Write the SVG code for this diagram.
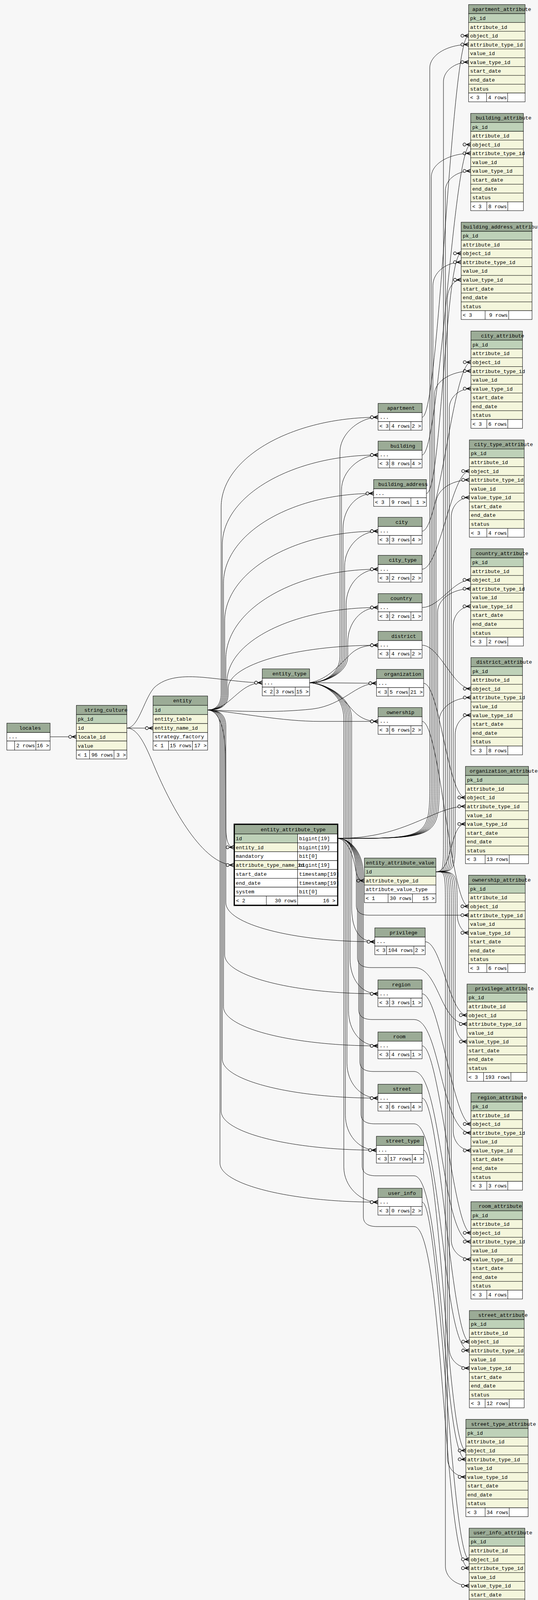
<svg xmlns="http://www.w3.org/2000/svg" width="1377" height="4217" viewBox="0 0 1377 4217">
<style>
text{font-family:"Liberation Mono","DejaVu Sans Mono",monospace;font-size:13.2px;fill:#000}
.e{text-anchor:end}
.hd{fill:#9bab96;stroke:#000;stroke-width:1}
.pk{fill:#bed1b8;stroke:#000;stroke-width:1}
.ix{fill:#f4f6dc;stroke:#000;stroke-width:1}
.wt{fill:#fff;stroke:#000;stroke-width:1}
.ln{fill:none;stroke:#000;stroke-width:1}
#edges path{fill:none;stroke:#000;stroke-width:1;marker-end:url(#cf)}
</style>
<defs>
<marker id="cf" markerUnits="userSpaceOnUse" markerWidth="24" markerHeight="14" refX="20" refY="7" orient="auto" overflow="visible">
<circle cx="4.2" cy="7" r="3.8" fill="#f7f7f7" stroke="#000" stroke-width="1.3"/>
<path d="M9 7L20 2.6M9 7L20 7M9 7L20 11.4" fill="none" stroke="#000" stroke-width="1.6"/>
</marker>
</defs>
<rect width="1377" height="4217" fill="#f7f7f7"/>
<g id="edges">
<path d="M128.2,1886.2 L195.4,1886.2"/>
<path d="M324.6,1863.8 L391.8,1864.1"/>
<path d="M324.6,1863.8 C355,1863.8 368,1790 395,1760 C425,1732 470,1730 520,1734 C585,1740 625,1747.7 671.3,1747.7"/>
<path d="M324.6,1863.8 C355,1863.8 375,1915 395,1962 C440,2070 520,2214.5 598.3,2214.5"/>
<path d="M531.4,1817.5 C590,1817.5 610,1747.7 671.3,1747.7"/>
<path d="M531.4,1817.5 C560,1820 575,1860 577,1930 L578,2120 C579,2155 585,2169 598.3,2169"/>
<path d="M531.4,1817.5 C551,1817.5 566,1805 566,1775 L566,1298.2 C566,1171.7 746.8,1068.2 967.7,1068.2"/>
<path d="M531.4,1817.5 C554,1817.5 569,1805 569,1775 L569,1394.8 C569,1268.3 748.4,1164.8 967.7,1164.8"/>
<path d="M531.4,1817.5 C557,1817.5 572,1805 572,1775 L572,1493.2 C572,1366.7 744.9,1263.2 956.3,1263.2"/>
<path d="M531.4,1817.5 C560,1817.5 575,1805 575,1775 L575,1589.8 C575,1463.3 751.7,1359.8 967.7,1359.8"/>
<path d="M531.4,1817.5 C563,1817.5 578,1805 578,1775 L578,1687.2 C578,1560.7 753.4,1457.2 967.7,1457.2"/>
<path d="M531.4,1817.5 C566,1817.5 581,1805 581,1775 L581,1745.2 C581,1640.7 755,1555.2 967.7,1555.2"/>
<path d="M531.4,1817.5 C569,1817.5 584,1805 584,1775 L584,1761.8 C584,1701.3 756.7,1651.8 967.7,1651.8"/>
<path d="M531.4,1817.5 C600,1820 700,1826 800,1815 C880,1805 910,1749.2 963.7,1749.2"/>
<path d="M531.4,1817.5 C620,1825 720,1846.8 820,1846.8 L967.7,1846.8"/>
<path d="M531.4,1817.5 C563,1817.5 578,1830 578,1860 L578,2310.9 C578,2365.9 749.6,2410.9 959.3,2410.9"/>
<path d="M531.4,1817.5 C560,1817.5 575,1830 575,1860 L575,2444.1 C575,2499.1 751.5,2544.1 967.3,2544.1"/>
<path d="M531.4,1817.5 C557,1817.5 572,1830 572,1860 L572,2577.4 C572,2632.4 749.9,2677.4 967.3,2677.4"/>
<path d="M531.4,1817.5 C554,1817.5 569,1830 569,1860 L569,2711.2 C569,2766.2 748.2,2811.2 967.3,2811.2"/>
<path d="M531.4,1817.5 C551,1817.5 566,1830 566,1860 L566,2844.4 C566,2899.4 744.8,2944.4 963.3,2944.4"/>
<path d="M531.4,1817.5 C548,1817.5 563,1830 563,1860 L563,2977.5 C563,3032.5 744.9,3077.5 967.3,3077.5"/>
<path d="M792.3,1747.7 C830,1747.7 870,1725 870,1680 L870,1158.2 C870,1108.2 922.7,1068.2 967.7,1068.2"/>
<path d="M792.3,1747.7 C830,1747.7 874,1725 874,1680 L874,1254.8 C874,1204.8 922.7,1164.8 967.7,1164.8"/>
<path d="M792.3,1747.7 C830,1747.7 878,1725 878,1680 L878,1353.2 C878,1303.2 911.3,1263.2 956.3,1263.2"/>
<path d="M792.3,1747.7 C830,1747.7 882,1725 882,1680 L882,1449.8 C882,1399.8 922.7,1359.8 967.7,1359.8"/>
<path d="M792.3,1747.7 C830,1747.7 886,1725 886,1680 L886,1547.2 C886,1497.2 922.7,1457.2 967.7,1457.2"/>
<path d="M792.3,1747.7 C830,1747.7 890,1725 890,1680 L890,1645.2 C890,1595.2 922.7,1555.2 967.7,1555.2"/>
<path d="M792.3,1747.7 C840,1740 870,1700 900,1672 C920,1655 940,1651.8 967.7,1651.8"/>
<path d="M792.3,1747.7 L963.7,1749.2"/>
<path d="M792.3,1747.7 C840,1750 870,1780 900,1815 C920,1838 940,1846.8 967.7,1846.8"/>
<path d="M792.3,1747.7 C830,1750 900,1780 900,1840 L900,2320.9 C900,2370.9 914.3,2410.9 959.3,2410.9"/>
<path d="M792.3,1747.7 C830,1750 896,1780 896,1840 L896,2454.1 C896,2504.1 922.3,2544.1 967.3,2544.1"/>
<path d="M792.3,1747.7 C830,1750 892,1780 892,1840 L892,2587.4 C892,2637.4 922.3,2677.4 967.3,2677.4"/>
<path d="M792.3,1747.7 C830,1750 888,1780 888,1840 L888,2721.2 C888,2771.2 922.3,2811.2 967.3,2811.2"/>
<path d="M792.3,1747.7 C830,1750 884,1780 884,1840 L884,2854.4 C884,2904.4 918.3,2944.4 963.3,2944.4"/>
<path d="M792.3,1747.7 C830,1750 880,1780 880,1840 L880,2987.5 C880,3037.5 922.3,3077.5 967.3,3077.5"/>
<path d="M865,2146.3 C892,2150 905,2195 910,2225 C914,2248 920,2254.5 932.7,2254.5"/>
<path d="M865,2146.3 C1100,2146.3 1100,2146.3 1100,2000 L1100,174 C1100,141 1144.7,114 1199.3,114"/>
<path d="M865,2146.3 C1104,2146.3 1104,2146.3 1104,2000 L1104,452.6 C1104,419.6 1149.3,392.6 1204.7,392.6"/>
<path d="M865,2146.3 C1108,2146.3 1108,2146.3 1108,2000 L1108,731.2 C1108,698.2 1140.5,671.2 1180.3,671.2"/>
<path d="M865,2146.3 C1112,2146.3 1112,2146.3 1112,2000 L1112,1009.8 C1112,976.8 1154,949.8 1205.3,949.8"/>
<path d="M865,2146.3 C1116,2146.3 1116,2146.3 1116,2000 L1116,1288.5 C1116,1255.5 1154.4,1228.5 1201.3,1228.5"/>
<path d="M865,2146.3 C1120,2146.3 1120,2146.3 1120,2000 L1120,1567.1 C1120,1534.1 1158.1,1507.1 1204.7,1507.1"/>
<path d="M865,2146.3 C1124,2146.3 1124,2146.3 1124,2000 L1124,1845.7 C1124,1812.7 1160.6,1785.7 1205.3,1785.7"/>
<path d="M865,2146.3 C1040,2146.3 1110,2064.3 1191.3,2064.3"/>
<path d="M865,2146.3 C895,2146.3 912,2180 912,2240 L912,2318 C912,2334 922,2342.9 945,2342.9 L1199.3,2342.9"/>
<path d="M865,2146.3 C895,2146.3 915,2180 915,2240 L915,2452 C915,2467 925,2477 950,2477 L1060,2477 C1125,2477 1125,2621.5 1195.3,2621.5"/>
<path d="M865,2146.3 C895,2146.3 918,2180 918,2240 L918,2585 C918,2600 928,2610 953,2610 L1060,2610 C1128,2610 1128,2900.1 1205.3,2900.1"/>
<path d="M865,2146.3 C895,2146.3 921,2180 921,2240 L921,2718 C921,2733 931,2743 956,2743 L1060,2743 C1130,2743 1130,3178.7 1205.3,3178.7"/>
<path d="M865,2146.3 C895,2146.3 924,2180 924,2240 L924,2852 C924,2867 934,2877 959,2877 L1060,2877 C1132,2877 1132,3457.3 1201.3,3457.3"/>
<path d="M865,2146.3 C895,2146.3 927,2180 927,2240 L927,2985 C927,3000 937,3010 962,3010 L1060,3010 C1134,3010 1134,3735.9 1192.3,3735.9"/>
<path d="M865,2146.3 C895,2146.3 930,2180 930,2240 L930,3115 C930,3130 940,3140 965,3140 L1060,3140 C1136,3140 1136,4014.5 1200.7,4014.5"/>
<path d="M1115.7,2231.6 C1135,2231.6 1135,2231.6 1135,2130 L1135,209.1 C1135,181.6 1163.9,159.1 1199.3,159.1"/>
<path d="M1115.7,2231.6 C1140,2231.6 1140,2231.6 1140,2130 L1140,487.7 C1140,460.2 1169.1,437.7 1204.7,437.7"/>
<path d="M1115.7,2231.6 C1145,2231.6 1145,2231.6 1145,2130 L1145,766.3 C1145,738.8 1160.9,716.3 1180.3,716.3"/>
<path d="M1115.7,2231.6 C1150,2231.6 1150,2231.6 1150,2130 L1150,1044.9 C1150,1017.4 1174.9,994.9 1205.3,994.9"/>
<path d="M1115.7,2231.6 C1155,2231.6 1155,2231.6 1155,2130 L1155,1323.6 C1155,1296.1 1175.8,1273.6 1201.3,1273.6"/>
<path d="M1115.7,2231.6 C1160,2231.6 1160,2231.6 1160,2130 L1160,1602.2 C1160,1574.7 1180.1,1552.2 1204.7,1552.2"/>
<path d="M1115.7,2231.6 C1165,2231.6 1165,2231.6 1165,2130 L1165,1880.8 C1165,1853.3 1183.1,1830.8 1205.3,1830.8"/>
<path d="M1115.7,2231.6 C1160,2231.6 1150,2109.4 1191.3,2109.4"/>
<path d="M1115.7,2231.6 C1170,2231.6 1170,2231.6 1170,2330 L1170,2338 C1170,2365.5 1183.2,2388 1199.3,2388"/>
<path d="M1115.7,2231.6 C1165,2231.6 1165,2231.6 1165,2330 L1165,2616.6 C1165,2644.1 1178.6,2666.6 1195.3,2666.6"/>
<path d="M1115.7,2231.6 C1160,2231.6 1160,2231.6 1160,2330 L1160,2895.2 C1160,2922.7 1180.4,2945.2 1205.3,2945.2"/>
<path d="M1115.7,2231.6 C1155,2231.6 1155,2231.6 1155,2330 L1155,3173.8 C1155,3201.3 1177.7,3223.8 1205.3,3223.8"/>
<path d="M1115.7,2231.6 C1150,2231.6 1150,2231.6 1150,2330 L1150,3452.4 C1150,3479.9 1173.1,3502.4 1201.3,3502.4"/>
<path d="M1115.7,2231.6 C1145,2231.6 1145,2231.6 1145,2330 L1145,3731 C1145,3758.5 1166.3,3781 1192.3,3781"/>
<path d="M1115.7,2231.6 C1140,2231.6 1140,2231.6 1140,2330 L1140,4009.6 C1140,4037.1 1167.3,4059.6 1200.7,4059.6"/>
<path d="M1080.3,1068.2 C1125,1068.2 1154.3,91.4 1199.3,91.4"/>
<path d="M1080.3,1164.8 C1125,1164.8 1159.7,370 1204.7,370"/>
<path d="M1091.3,1263.2 C1130,1263.2 1140,648.6 1180.3,648.6"/>
<path d="M1080.3,1359.8 C1125,1359.8 1160.3,927.2 1205.3,927.2"/>
<path d="M1080.3,1457.2 C1125,1457.2 1156.3,1205.9 1201.3,1205.9"/>
<path d="M1080.3,1555.2 C1125,1555.2 1159.7,1484.5 1204.7,1484.5"/>
<path d="M1080.3,1651.8 C1125,1651.8 1160.3,1763.1 1205.3,1763.1"/>
<path d="M1084.3,1749.2 C1125,1749.2 1146.3,2041.7 1191.3,2041.7"/>
<path d="M1080.3,1846.8 C1125,1846.8 1154.3,2320.3 1199.3,2320.3"/>
<path d="M1088.3,2410.9 C1130,2410.9 1150.3,2598.9 1195.3,2598.9"/>
<path d="M1080.3,2544.1 C1125,2544.1 1160.3,2877.5 1205.3,2877.5"/>
<path d="M1080.3,2677.4 C1125,2677.4 1160.3,3156.1 1205.3,3156.1"/>
<path d="M1080.3,2811.2 C1125,2811.2 1156.3,3434.7 1201.3,3434.7"/>
<path d="M1084.3,2944.4 C1125,2944.4 1147.3,3713.3 1192.3,3713.3"/>
<path d="M1080.3,3077.5 C1125,3077.5 1155.7,3991.9 1200.7,3991.9"/>
</g>

<g id="locales" transform="translate(17.5 1851.3)">
<rect class="hd" width="110.7" height="24"/>
<rect class="wt" y="24" width="110.7" height="21.7"/>
<rect class="wt" y="45.7" width="110.7" height="23.3"/>
<path class="ln" d="M20 45.7V69M74.3 45.7V69"/>
<text x="31.8" y="17">locales</text>
<text x="4" y="39">...</text>
<text class="e" x="71.8" y="62">2 rows</text>
<text class="e" x="108.2" y="62">16 &gt;</text>
</g>

<g id="string_culture" transform="translate(195.4 1805.7)">
<rect class="hd" width="129.2" height="23.6"/>
<rect class="pk" y="23.6" width="129.2" height="23"/>
<rect class="ix" y="46.6" width="129.2" height="23"/>
<rect class="ix" y="69.6" width="129.2" height="21.7"/>
<rect class="ix" y="91.3" width="129.2" height="23.3"/>
<rect class="wt" y="114.6" width="129.2" height="22.7"/>
<path class="ln" d="M33.9 114.6V137.3M96.4 114.6V137.3"/>
<text x="20.3" y="16.5">string_culture</text>
<text x="3.6" y="39.6">pk_id</text>
<text x="3.6" y="62.6">id</text>
<text x="3.6" y="85.5">locale_id</text>
<text x="3.6" y="107.9">value</text>
<text x="3.5" y="130.9">&lt; 1</text>
<text class="e" x="93.9" y="130.9">96 rows</text>
<text class="e" x="126.7" y="130.9">3 &gt;</text>
</g>

<g id="entity" transform="translate(391.8 1781.7)">
<rect class="hd" width="139.6" height="24"/>
<rect class="pk" y="24" width="139.6" height="23.6"/>
<rect class="ix" y="47.6" width="139.6" height="23"/>
<rect class="ix" y="70.6" width="139.6" height="23"/>
<rect class="wt" y="93.6" width="139.6" height="21.7"/>
<rect class="wt" y="115.3" width="139.6" height="23.3"/>
<path class="ln" d="M39.6 115.3V138.6M100.7 115.3V138.6"/>
<text x="51.4" y="16.8">entity</text>
<text x="3.9" y="40">id</text>
<text x="3.9" y="63">entity_table</text>
<text x="3.9" y="86">entity_name_id</text>
<text x="3.9" y="108.5">strategy_factory</text>
<text x="3" y="131">&lt; 1</text>
<text class="e" x="98.2" y="131">15 rows</text>
<text class="e" x="137" y="131">17 &gt;</text>
</g>

<g id="entity_type" transform="translate(671.3 1712.3)">
<rect class="hd" width="121" height="24"/>
<rect class="wt" y="24" width="121" height="22.7"/>
<rect class="wt" y="46.7" width="121" height="22.3"/>
<path class="ln" d="M30.4 46.7V69M84.4 46.7V69"/>
<text x="26" y="16.8">entity_type</text>
<text x="4" y="39.5">...</text>
<text x="3.4" y="62.5">&lt; 2</text>
<text class="e" x="81.9" y="62.5">3 rows</text>
<text class="e" x="118.5" y="62.5">15 &gt;</text>
</g>

<g id="entity_attribute_type">
<rect class="hd" x="600.7" y="2111" width="263" height="24"/>
<rect class="pk" x="600.7" y="2135" width="161" height="22.7"/>
<rect class="wt" x="761.7" y="2135" width="102" height="22.7"/>
<rect class="ix" x="600.7" y="2157.7" width="161" height="22.7"/>
<rect class="wt" x="761.7" y="2157.7" width="102" height="22.7"/>
<rect class="wt" x="600.7" y="2180.4" width="161" height="22.7"/>
<rect class="wt" x="761.7" y="2180.4" width="102" height="22.7"/>
<rect class="ix" x="600.7" y="2203.1" width="161" height="22.7"/>
<rect class="wt" x="761.7" y="2203.1" width="102" height="22.7"/>
<rect class="wt" x="600.7" y="2225.8" width="161" height="22.7"/>
<rect class="wt" x="761.7" y="2225.8" width="102" height="22.7"/>
<rect class="wt" x="600.7" y="2248.5" width="161" height="22.7"/>
<rect class="wt" x="761.7" y="2248.5" width="102" height="22.7"/>
<rect class="wt" x="600.7" y="2271.2" width="161" height="22.7"/>
<rect class="wt" x="761.7" y="2271.2" width="102" height="22.7"/>
<rect class="wt" x="600.7" y="2293.9" width="263" height="22.7"/>
<path class="ln" d="M681.7 2293.9V2316.6M761.7 2293.9V2316.6"/>
<text x="667.3" y="2128">entity_attribute_type</text>
<text x="603.5" y="2151">id</text>
<text x="765.5" y="2151">bigint[19]</text>
<text x="603.5" y="2173.7">entity_id</text>
<text x="765.5" y="2173.7">bigint[19]</text>
<text x="603.5" y="2196.4">mandatory</text>
<text x="765.5" y="2196.4">bit[0]</text>
<text x="603.5" y="2219.1">attribute_type_name_id</text>
<text x="765.5" y="2219.1">bigint[19]</text>
<text x="603.5" y="2241.8">start_date</text>
<text x="765.5" y="2241.8">timestamp[19]</text>
<text x="603.5" y="2264.5">end_date</text>
<text x="765.5" y="2264.5">timestamp[19]</text>
<text x="603.5" y="2287.2">system</text>
<text x="765.5" y="2287.2">bit[0]</text>
<text x="604" y="2309.9">&lt; 2</text>
<text class="e" x="759" y="2309.9">30 rows</text>
<text class="e" x="858.5" y="2309.9">16 &gt;</text>
<rect x="599.5" y="2110" width="264.8" height="207.8" fill="none" stroke="#000" stroke-width="3"/>
</g>

<g id="entity_attribute_value" transform="translate(932.7 2196.7)">
<rect class="hd" width="183" height="23.3"/>
<rect class="pk" y="23.3" width="183" height="23.3"/>
<rect class="ix" y="46.6" width="183" height="22.4"/>
<rect class="wt" y="69" width="183" height="22.6"/>
<rect class="wt" y="91.6" width="183" height="22.4"/>
<path class="ln" d="M60.6 91.6V114M123 91.6V114"/>
<text x="4.3" y="16">entity_attribute_value</text>
<text x="3.5" y="39.6">id</text>
<text x="3.5" y="62.3">attribute_type_id</text>
<text x="3.5" y="84.8">attribute_value_type</text>
<text x="3.3" y="107.3">&lt; 1</text>
<text class="e" x="120.5" y="107.3">30 rows</text>
<text class="e" x="180" y="107.3">15 &gt;</text>
</g>

<g id="apartment" transform="translate(967.7 1032.7)">
<rect class="hd" width="112.6" height="23.6"/><rect class="wt" y="23.6" width="112.6" height="23"/><rect class="wt" y="46.6" width="112.6" height="22"/>
<path class="ln" d="M29.6 46.6V68.6M84 46.6V68.6"/>
<text x="23" y="16.5">apartment</text><text x="4" y="39">...</text>
<text x="3.5" y="62">&lt; 3</text><text class="e" x="81.5" y="62">4 rows</text><text class="e" x="110.1" y="62">2 &gt;</text>
</g>
<g id="building" transform="translate(967.7 1129.3)">
<rect class="hd" width="112.6" height="23.6"/><rect class="wt" y="23.6" width="112.6" height="23"/><rect class="wt" y="46.6" width="112.6" height="22"/>
<path class="ln" d="M29.6 46.6V68.6M84 46.6V68.6"/>
<text x="31.6" y="16.5">building</text><text x="4" y="39">...</text>
<text x="3.5" y="62">&lt; 3</text><text class="e" x="81.5" y="62">8 rows</text><text class="e" x="110.1" y="62">4 &gt;</text>
</g>
<g id="building_address" transform="translate(956.3 1227.7)">
<rect class="hd" width="135" height="23.6"/><rect class="wt" y="23.6" width="135" height="23"/><rect class="wt" y="46.6" width="135" height="22"/>
<path class="ln" d="M41 46.6V68.6M95.4 46.6V68.6"/>
<text x="12" y="16.5">building_address</text><text x="4" y="39">...</text>
<text x="3.5" y="62">&lt; 3</text><text class="e" x="92.9" y="62">9 rows</text><text class="e" x="132.5" y="62">1 &gt;</text>
</g>
<g id="city" transform="translate(967.7 1324.3)">
<rect class="hd" width="112.6" height="23.6"/><rect class="wt" y="23.6" width="112.6" height="23"/><rect class="wt" y="46.6" width="112.6" height="22"/>
<path class="ln" d="M29.6 46.6V68.6M84 46.6V68.6"/>
<text x="44.6" y="16.5">city</text><text x="4" y="39">...</text>
<text x="3.5" y="62">&lt; 3</text><text class="e" x="81.5" y="62">3 rows</text><text class="e" x="110.1" y="62">4 &gt;</text>
</g>
<g id="city_type" transform="translate(967.7 1421.7)">
<rect class="hd" width="112.6" height="23.6"/><rect class="wt" y="23.6" width="112.6" height="23"/><rect class="wt" y="46.6" width="112.6" height="22"/>
<path class="ln" d="M29.6 46.6V68.6M84 46.6V68.6"/>
<text x="27.6" y="16.5">city_type</text><text x="4" y="39">...</text>
<text x="3.5" y="62">&lt; 3</text><text class="e" x="81.5" y="62">2 rows</text><text class="e" x="110.1" y="62">2 &gt;</text>
</g>
<g id="country" transform="translate(967.7 1519.7)">
<rect class="hd" width="112.6" height="23.6"/><rect class="wt" y="23.6" width="112.6" height="23"/><rect class="wt" y="46.6" width="112.6" height="22"/>
<path class="ln" d="M29.6 46.6V68.6M84 46.6V68.6"/>
<text x="31.6" y="16.5">country</text><text x="4" y="39">...</text>
<text x="3.5" y="62">&lt; 3</text><text class="e" x="81.5" y="62">2 rows</text><text class="e" x="110.1" y="62">1 &gt;</text>
</g>
<g id="district" transform="translate(967.7 1616.3)">
<rect class="hd" width="112.6" height="23.6"/><rect class="wt" y="23.6" width="112.6" height="23"/><rect class="wt" y="46.6" width="112.6" height="22"/>
<path class="ln" d="M29.6 46.6V68.6M84 46.6V68.6"/>
<text x="34" y="16.5">district</text><text x="4" y="39">...</text>
<text x="3.5" y="62">&lt; 3</text><text class="e" x="81.5" y="62">4 rows</text><text class="e" x="110.1" y="62">2 &gt;</text>
</g>
<g id="organization" transform="translate(963.7 1713.7)">
<rect class="hd" width="120.6" height="23.6"/><rect class="wt" y="23.6" width="120.6" height="23"/><rect class="wt" y="46.6" width="120.6" height="22"/>
<path class="ln" d="M29.6 46.6V68.6M83.6 46.6V68.6"/>
<text x="19.6" y="16.5">organization</text><text x="4" y="39">...</text>
<text x="3.5" y="62">&lt; 3</text><text class="e" x="81.1" y="62">5 rows</text><text class="e" x="118.1" y="62">21 &gt;</text>
</g>
<g id="ownership" transform="translate(967.7 1811.3)">
<rect class="hd" width="112.6" height="23.6"/><rect class="wt" y="23.6" width="112.6" height="23"/><rect class="wt" y="46.6" width="112.6" height="22"/>
<path class="ln" d="M29.6 46.6V68.6M84 46.6V68.6"/>
<text x="21.6" y="16.5">ownership</text><text x="4" y="39">...</text>
<text x="3.5" y="62">&lt; 3</text><text class="e" x="81.5" y="62">6 rows</text><text class="e" x="110.1" y="62">2 &gt;</text>
</g>
<g id="privilege" transform="translate(959.3 2375.4)">
<rect class="hd" width="129" height="23.6"/><rect class="wt" y="23.6" width="129" height="23"/><rect class="wt" y="46.6" width="129" height="22"/>
<path class="ln" d="M30 46.6V68.6M100 46.6V68.6"/>
<text x="38" y="16.5">privilege</text><text x="4" y="39">...</text>
<text x="3.5" y="62">&lt; 3</text><text class="e" x="97.5" y="62">104 rows</text><text class="e" x="126.5" y="62">2 &gt;</text>
</g>
<g id="region" transform="translate(967.3 2508.6)">
<rect class="hd" width="113" height="23.6"/><rect class="wt" y="23.6" width="113" height="23"/><rect class="wt" y="46.6" width="113" height="22"/>
<path class="ln" d="M30 46.6V68.6M84.4 46.6V68.6"/>
<text x="36" y="16.5">region</text><text x="4" y="39">...</text>
<text x="3.5" y="62">&lt; 3</text><text class="e" x="81.9" y="62">3 rows</text><text class="e" x="110.5" y="62">1 &gt;</text>
</g>
<g id="room" transform="translate(967.3 2641.9)">
<rect class="hd" width="113" height="23.6"/><rect class="wt" y="23.6" width="113" height="23"/><rect class="wt" y="46.6" width="113" height="22"/>
<path class="ln" d="M30 46.6V68.6M84.4 46.6V68.6"/>
<text x="39" y="16.5">room</text><text x="4" y="39">...</text>
<text x="3.5" y="62">&lt; 3</text><text class="e" x="81.9" y="62">4 rows</text><text class="e" x="110.5" y="62">1 &gt;</text>
</g>
<g id="street" transform="translate(967.3 2775.7)">
<rect class="hd" width="113" height="23.6"/><rect class="wt" y="23.6" width="113" height="23"/><rect class="wt" y="46.6" width="113" height="22"/>
<path class="ln" d="M30 46.6V68.6M84.4 46.6V68.6"/>
<text x="38" y="16.5">street</text><text x="4" y="39">...</text>
<text x="3.5" y="62">&lt; 3</text><text class="e" x="81.9" y="62">6 rows</text><text class="e" x="110.5" y="62">4 &gt;</text>
</g>
<g id="street_type" transform="translate(963.3 2908.9)">
<rect class="hd" width="121" height="23.6"/><rect class="wt" y="23.6" width="121" height="23"/><rect class="wt" y="46.6" width="121" height="22"/>
<path class="ln" d="M30.4 46.6V68.6M92 46.6V68.6"/>
<text x="24" y="16.5">street_type</text><text x="4" y="39">...</text>
<text x="3.5" y="62">&lt; 3</text><text class="e" x="89.5" y="62">17 rows</text><text class="e" x="118.5" y="62">4 &gt;</text>
</g>
<g id="user_info" transform="translate(967.3 3042)">
<rect class="hd" width="113" height="23.6"/><rect class="wt" y="23.6" width="113" height="23"/><rect class="wt" y="46.6" width="113" height="22"/>
<path class="ln" d="M30 46.6V68.6M84.4 46.6V68.6"/>
<text x="26" y="16.5">user_info</text><text x="4" y="39">...</text>
<text x="3.5" y="62">&lt; 3</text><text class="e" x="81.9" y="62">0 rows</text><text class="e" x="110.5" y="62">2 &gt;</text>
</g>

<g id="apartment_attribute" transform="translate(1199.3 11.7)">
<rect class="hd" width="144.7" height="23.3"/><rect class="pk" y="23.3" width="144.7" height="22.6"/><rect class="ix" y="45.9" width="144.7" height="180.5"/><rect class="wt" y="226.4" width="144.7" height="22.6"/>
<path class="ln" d="M0 68.4H144.7M0 91H144.7M0 113.6H144.7M0 136.2H144.7M0 158.7H144.7M0 181.3H144.7M0 203.9H144.7M46 226.4V249M100 226.4V249"/>
<text x="9.7" y="16">apartment_attribute</text>
<text x="4" y="39.3">pk_id</text><text x="4" y="61.9">attribute_id</text><text x="4" y="84.4">object_id</text><text x="4" y="107">attribute_type_id</text><text x="4" y="129.6">value_id</text><text x="4" y="152.2">value_type_id</text><text x="4" y="174.7">start_date</text><text x="4" y="197.3">end_date</text><text x="4" y="219.9">status</text>
<text x="4" y="242.4">&lt; 3</text><text class="e" x="97.5" y="242.4">4 rows</text>
</g>
<g id="building_attribute" transform="translate(1204.7 290.3)">
<rect class="hd" width="135" height="23.3"/><rect class="pk" y="23.3" width="135" height="22.6"/><rect class="ix" y="45.9" width="135" height="180.5"/><rect class="wt" y="226.4" width="135" height="22.6"/>
<path class="ln" d="M0 68.4H135M0 91H135M0 113.6H135M0 136.2H135M0 158.7H135M0 181.3H135M0 203.9H135M41.3 226.4V249M95 226.4V249"/>
<text x="13" y="16">building_attribute</text>
<text x="4" y="39.3">pk_id</text><text x="4" y="61.9">attribute_id</text><text x="4" y="84.4">object_id</text><text x="4" y="107">attribute_type_id</text><text x="4" y="129.6">value_id</text><text x="4" y="152.2">value_type_id</text><text x="4" y="174.7">start_date</text><text x="4" y="197.3">end_date</text><text x="4" y="219.9">status</text>
<text x="4" y="242.4">&lt; 3</text><text class="e" x="92.5" y="242.4">8 rows</text>
</g>
<g id="building_address_attribute" transform="translate(1180.3 568.9)">
<rect class="hd" width="181.4" height="23.3"/><rect class="pk" y="23.3" width="181.4" height="22.6"/><rect class="ix" y="45.9" width="181.4" height="180.5"/><rect class="wt" y="226.4" width="181.4" height="22.6"/>
<path class="ln" d="M0 68.4H181.4M0 91H181.4M0 113.6H181.4M0 136.2H181.4M0 158.7H181.4M0 181.3H181.4M0 203.9H181.4M61.4 226.4V249M121.7 226.4V249"/>
<text x="5.4" y="16">building_address_attribute</text>
<text x="4" y="39.3">pk_id</text><text x="4" y="61.9">attribute_id</text><text x="4" y="84.4">object_id</text><text x="4" y="107">attribute_type_id</text><text x="4" y="129.6">value_id</text><text x="4" y="152.2">value_type_id</text><text x="4" y="174.7">start_date</text><text x="4" y="197.3">end_date</text><text x="4" y="219.9">status</text>
<text x="4" y="242.4">&lt; 3</text><text class="e" x="119.2" y="242.4">9 rows</text>
</g>
<g id="city_attribute" transform="translate(1205.3 847.5)">
<rect class="hd" width="132" height="23.3"/><rect class="pk" y="23.3" width="132" height="22.6"/><rect class="ix" y="45.9" width="132" height="180.5"/><rect class="wt" y="226.4" width="132" height="22.6"/>
<path class="ln" d="M0 68.4H132M0 91H132M0 113.6H132M0 136.2H132M0 158.7H132M0 181.3H132M0 203.9H132M40.7 226.4V249M94.4 226.4V249"/>
<text x="25.7" y="16">city_attribute</text>
<text x="4" y="39.3">pk_id</text><text x="4" y="61.9">attribute_id</text><text x="4" y="84.4">object_id</text><text x="4" y="107">attribute_type_id</text><text x="4" y="129.6">value_id</text><text x="4" y="152.2">value_type_id</text><text x="4" y="174.7">start_date</text><text x="4" y="197.3">end_date</text><text x="4" y="219.9">status</text>
<text x="4" y="242.4">&lt; 3</text><text class="e" x="91.9" y="242.4">6 rows</text>
</g>
<g id="city_type_attribute" transform="translate(1201.3 1126.2)">
<rect class="hd" width="140.4" height="23.3"/><rect class="pk" y="23.3" width="140.4" height="22.6"/><rect class="ix" y="45.9" width="140.4" height="180.5"/><rect class="wt" y="226.4" width="140.4" height="22.6"/>
<path class="ln" d="M0 68.4H140.4M0 91H140.4M0 113.6H140.4M0 136.2H140.4M0 158.7H140.4M0 181.3H140.4M0 203.9H140.4M44.7 226.4V249M98.4 226.4V249"/>
<text x="12.4" y="16">city_type_attribute</text>
<text x="4" y="39.3">pk_id</text><text x="4" y="61.9">attribute_id</text><text x="4" y="84.4">object_id</text><text x="4" y="107">attribute_type_id</text><text x="4" y="129.6">value_id</text><text x="4" y="152.2">value_type_id</text><text x="4" y="174.7">start_date</text><text x="4" y="197.3">end_date</text><text x="4" y="219.9">status</text>
<text x="4" y="242.4">&lt; 3</text><text class="e" x="95.9" y="242.4">4 rows</text>
</g>
<g id="country_attribute" transform="translate(1204.7 1404.8)">
<rect class="hd" width="135" height="23.3"/><rect class="pk" y="23.3" width="135" height="22.6"/><rect class="ix" y="45.9" width="135" height="180.5"/><rect class="wt" y="226.4" width="135" height="22.6"/>
<path class="ln" d="M0 68.4H135M0 91H135M0 113.6H135M0 136.2H135M0 158.7H135M0 181.3H135M0 203.9H135M41.3 226.4V249M95 226.4V249"/>
<text x="13" y="16">country_attribute</text>
<text x="4" y="39.3">pk_id</text><text x="4" y="61.9">attribute_id</text><text x="4" y="84.4">object_id</text><text x="4" y="107">attribute_type_id</text><text x="4" y="129.6">value_id</text><text x="4" y="152.2">value_type_id</text><text x="4" y="174.7">start_date</text><text x="4" y="197.3">end_date</text><text x="4" y="219.9">status</text>
<text x="4" y="242.4">&lt; 3</text><text class="e" x="92.5" y="242.4">2 rows</text>
</g>
<g id="district_attribute" transform="translate(1205.3 1683.4)">
<rect class="hd" width="132" height="23.3"/><rect class="pk" y="23.3" width="132" height="22.6"/><rect class="ix" y="45.9" width="132" height="180.5"/><rect class="wt" y="226.4" width="132" height="22.6"/>
<path class="ln" d="M0 68.4H132M0 91H132M0 113.6H132M0 136.2H132M0 158.7H132M0 181.3H132M0 203.9H132M40.7 226.4V249M94.4 226.4V249"/>
<text x="14" y="16">district_attribute</text>
<text x="4" y="39.3">pk_id</text><text x="4" y="61.9">attribute_id</text><text x="4" y="84.4">object_id</text><text x="4" y="107">attribute_type_id</text><text x="4" y="129.6">value_id</text><text x="4" y="152.2">value_type_id</text><text x="4" y="174.7">start_date</text><text x="4" y="197.3">end_date</text><text x="4" y="219.9">status</text>
<text x="4" y="242.4">&lt; 3</text><text class="e" x="91.9" y="242.4">8 rows</text>
</g>
<g id="organization_attribute" transform="translate(1191.3 1962)">
<rect class="hd" width="161.4" height="23.3"/><rect class="pk" y="23.3" width="161.4" height="22.6"/><rect class="ix" y="45.9" width="161.4" height="180.5"/><rect class="wt" y="226.4" width="161.4" height="22.6"/>
<path class="ln" d="M0 68.4H161.4M0 91H161.4M0 113.6H161.4M0 136.2H161.4M0 158.7H161.4M0 181.3H161.4M0 203.9H161.4M50.4 226.4V249M112 226.4V249"/>
<text x="10.7" y="16">organization_attribute</text>
<text x="4" y="39.3">pk_id</text><text x="4" y="61.9">attribute_id</text><text x="4" y="84.4">object_id</text><text x="4" y="107">attribute_type_id</text><text x="4" y="129.6">value_id</text><text x="4" y="152.2">value_type_id</text><text x="4" y="174.7">start_date</text><text x="4" y="197.3">end_date</text><text x="4" y="219.9">status</text>
<text x="4" y="242.4">&lt; 3</text><text class="e" x="109.5" y="242.4">13 rows</text>
</g>
<g id="ownership_attribute" transform="translate(1199.3 2240.6)">
<rect class="hd" width="145" height="23.3"/><rect class="pk" y="23.3" width="145" height="22.6"/><rect class="ix" y="45.9" width="145" height="180.5"/><rect class="wt" y="226.4" width="145" height="22.6"/>
<path class="ln" d="M0 68.4H145M0 91H145M0 113.6H145M0 136.2H145M0 158.7H145M0 181.3H145M0 203.9H145M46.7 226.4V249M100.4 226.4V249"/>
<text x="8.7" y="16">ownership_attribute</text>
<text x="4" y="39.3">pk_id</text><text x="4" y="61.9">attribute_id</text><text x="4" y="84.4">object_id</text><text x="4" y="107">attribute_type_id</text><text x="4" y="129.6">value_id</text><text x="4" y="152.2">value_type_id</text><text x="4" y="174.7">start_date</text><text x="4" y="197.3">end_date</text><text x="4" y="219.9">status</text>
<text x="4" y="242.4">&lt; 3</text><text class="e" x="97.9" y="242.4">6 rows</text>
</g>
<g id="privilege_attribute" transform="translate(1195.3 2519.2)">
<rect class="hd" width="153.4" height="23.3"/><rect class="pk" y="23.3" width="153.4" height="22.6"/><rect class="ix" y="45.9" width="153.4" height="180.5"/><rect class="wt" y="226.4" width="153.4" height="22.6"/>
<path class="ln" d="M0 68.4H153.4M0 91H153.4M0 113.6H153.4M0 136.2H153.4M0 158.7H153.4M0 181.3H153.4M0 203.9H153.4M42.4 226.4V249M112.4 226.4V249"/>
<text x="20.4" y="16">privilege_attribute</text>
<text x="4" y="39.3">pk_id</text><text x="4" y="61.9">attribute_id</text><text x="4" y="84.4">object_id</text><text x="4" y="107">attribute_type_id</text><text x="4" y="129.6">value_id</text><text x="4" y="152.2">value_type_id</text><text x="4" y="174.7">start_date</text><text x="4" y="197.3">end_date</text><text x="4" y="219.9">status</text>
<text x="4" y="242.4">&lt; 3</text><text class="e" x="109.9" y="242.4">193 rows</text>
</g>
<g id="region_attribute" transform="translate(1205.3 2797.8)">
<rect class="hd" width="132" height="23.3"/><rect class="pk" y="23.3" width="132" height="22.6"/><rect class="ix" y="45.9" width="132" height="180.5"/><rect class="wt" y="226.4" width="132" height="22.6"/>
<path class="ln" d="M0 68.4H132M0 91H132M0 113.6H132M0 136.2H132M0 158.7H132M0 181.3H132M0 203.9H132M40.7 226.4V249M94.4 226.4V249"/>
<text x="16.7" y="16">region_attribute</text>
<text x="4" y="39.3">pk_id</text><text x="4" y="61.9">attribute_id</text><text x="4" y="84.4">object_id</text><text x="4" y="107">attribute_type_id</text><text x="4" y="129.6">value_id</text><text x="4" y="152.2">value_type_id</text><text x="4" y="174.7">start_date</text><text x="4" y="197.3">end_date</text><text x="4" y="219.9">status</text>
<text x="4" y="242.4">&lt; 3</text><text class="e" x="91.9" y="242.4">3 rows</text>
</g>
<g id="room_attribute" transform="translate(1205.3 3076.4)">
<rect class="hd" width="132" height="23.3"/><rect class="pk" y="23.3" width="132" height="22.6"/><rect class="ix" y="45.9" width="132" height="180.5"/><rect class="wt" y="226.4" width="132" height="22.6"/>
<path class="ln" d="M0 68.4H132M0 91H132M0 113.6H132M0 136.2H132M0 158.7H132M0 181.3H132M0 203.9H132M40.7 226.4V249M94.4 226.4V249"/>
<text x="19.7" y="16">room_attribute</text>
<text x="4" y="39.3">pk_id</text><text x="4" y="61.9">attribute_id</text><text x="4" y="84.4">object_id</text><text x="4" y="107">attribute_type_id</text><text x="4" y="129.6">value_id</text><text x="4" y="152.2">value_type_id</text><text x="4" y="174.7">start_date</text><text x="4" y="197.3">end_date</text><text x="4" y="219.9">status</text>
<text x="4" y="242.4">&lt; 3</text><text class="e" x="91.9" y="242.4">4 rows</text>
</g>
<g id="street_attribute" transform="translate(1201.3 3355)">
<rect class="hd" width="140.4" height="23.3"/><rect class="pk" y="23.3" width="140.4" height="22.6"/><rect class="ix" y="45.9" width="140.4" height="180.5"/><rect class="wt" y="226.4" width="140.4" height="22.6"/>
<path class="ln" d="M0 68.4H140.4M0 91H140.4M0 113.6H140.4M0 136.2H140.4M0 158.7H140.4M0 181.3H140.4M0 203.9H140.4M40.4 226.4V249M102 226.4V249"/>
<text x="22.7" y="16">street_attribute</text>
<text x="4" y="39.3">pk_id</text><text x="4" y="61.9">attribute_id</text><text x="4" y="84.4">object_id</text><text x="4" y="107">attribute_type_id</text><text x="4" y="129.6">value_id</text><text x="4" y="152.2">value_type_id</text><text x="4" y="174.7">start_date</text><text x="4" y="197.3">end_date</text><text x="4" y="219.9">status</text>
<text x="4" y="242.4">&lt; 3</text><text class="e" x="99.5" y="242.4">12 rows</text>
</g>
<g id="street_type_attribute" transform="translate(1192.3 3633.6)">
<rect class="hd" width="159.4" height="23.3"/><rect class="pk" y="23.3" width="159.4" height="22.6"/><rect class="ix" y="45.9" width="159.4" height="180.5"/><rect class="wt" y="226.4" width="159.4" height="22.6"/>
<path class="ln" d="M0 68.4H159.4M0 91H159.4M0 113.6H159.4M0 136.2H159.4M0 158.7H159.4M0 181.3H159.4M0 203.9H159.4M49.4 226.4V249M111 226.4V249"/>
<text x="13.4" y="16">street_type_attribute</text>
<text x="4" y="39.3">pk_id</text><text x="4" y="61.9">attribute_id</text><text x="4" y="84.4">object_id</text><text x="4" y="107">attribute_type_id</text><text x="4" y="129.6">value_id</text><text x="4" y="152.2">value_type_id</text><text x="4" y="174.7">start_date</text><text x="4" y="197.3">end_date</text><text x="4" y="219.9">status</text>
<text x="4" y="242.4">&lt; 3</text><text class="e" x="108.5" y="242.4">34 rows</text>
</g>
<g id="user_info_attribute" transform="translate(1200.7 3912.2)">
<rect class="hd" width="142.6" height="23.3"/><rect class="pk" y="23.3" width="142.6" height="22.6"/><rect class="ix" y="45.9" width="142.6" height="180.5"/><rect class="wt" y="226.4" width="142.6" height="22.6"/>
<path class="ln" d="M0 68.4H142.6M0 91H142.6M0 113.6H142.6M0 136.2H142.6M0 158.7H142.6M0 181.3H142.6M0 203.9H142.6M45.3 226.4V249M99 226.4V249"/>
<text x="11.3" y="16">user_info_attribute</text>
<text x="4" y="39.3">pk_id</text><text x="4" y="61.9">attribute_id</text><text x="4" y="84.4">object_id</text><text x="4" y="107">attribute_type_id</text><text x="4" y="129.6">value_id</text><text x="4" y="152.2">value_type_id</text><text x="4" y="174.7">start_date</text><text x="4" y="197.3">end_date</text><text x="4" y="219.9">status</text>
<text x="4" y="242.4">&lt; 3</text><text class="e" x="96.5" y="242.4">0 rows</text>
</g>

<text x="16.7" y="4203">Generated by SchemaSpy</text>
</svg>
